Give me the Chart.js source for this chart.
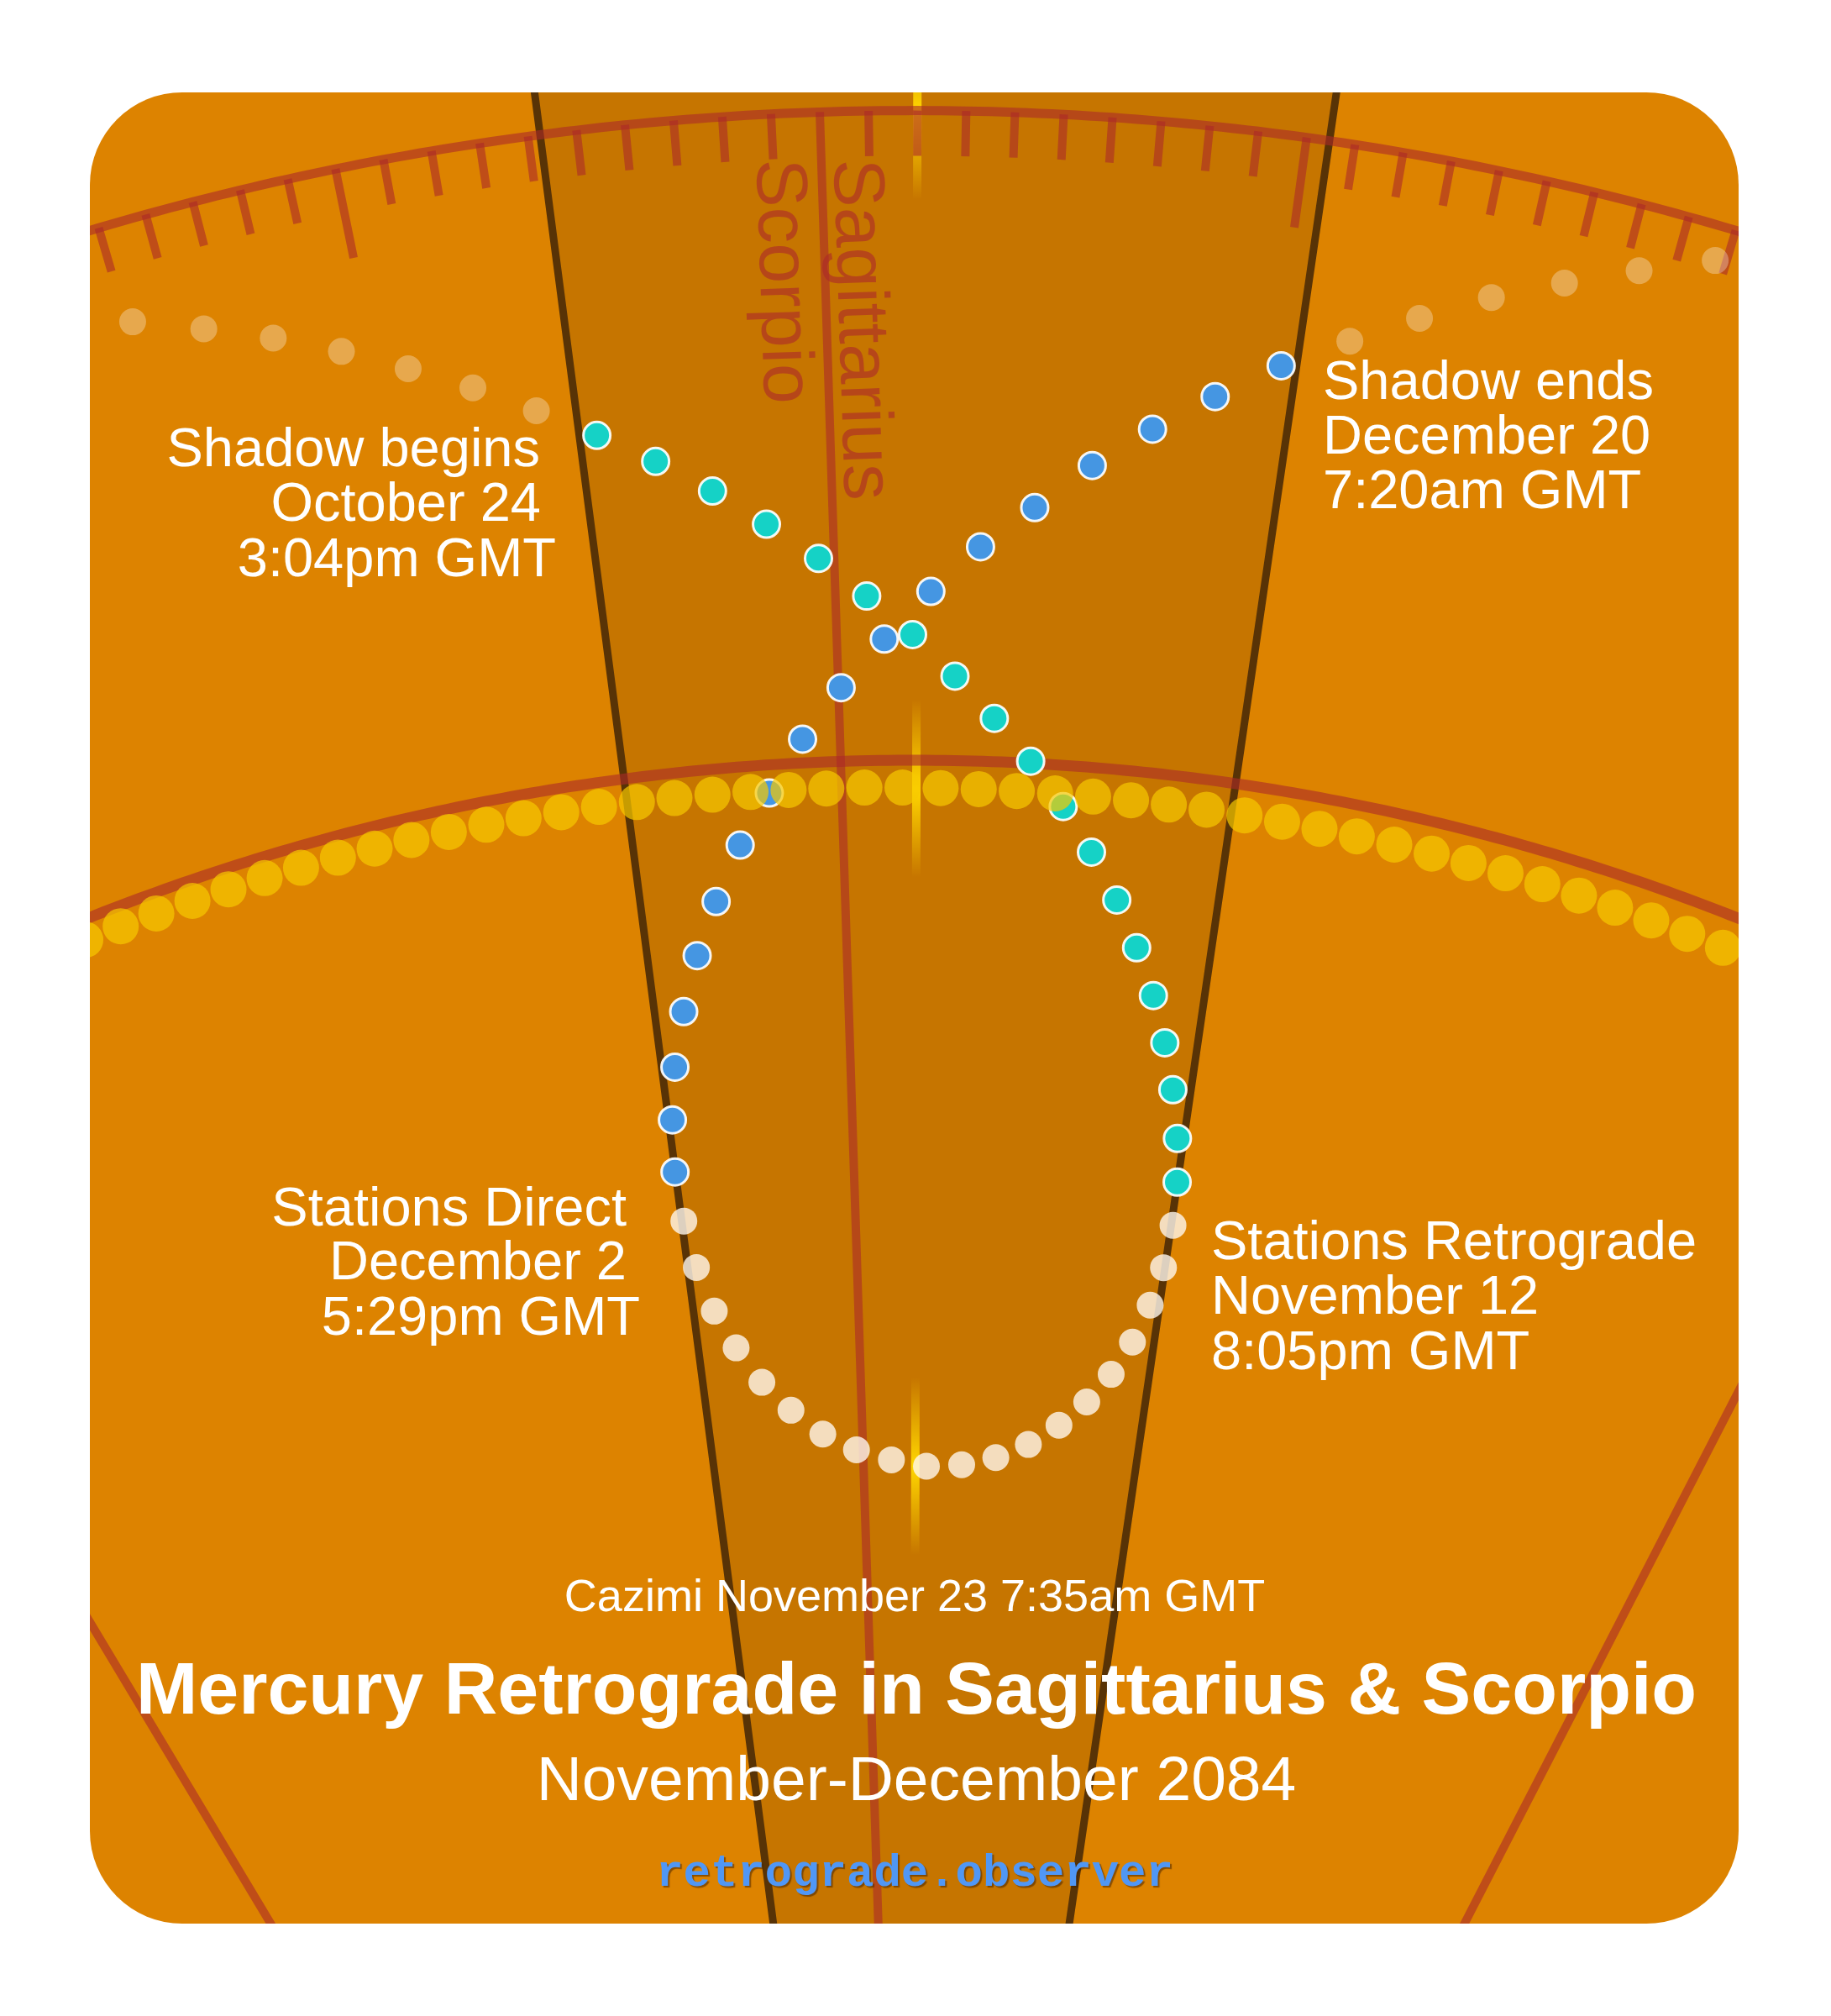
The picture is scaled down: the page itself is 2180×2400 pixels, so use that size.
<!DOCTYPE html>
<html>
<head>
<meta charset="utf-8">
<title>Mercury Retrograde in Sagittarius &amp; Scorpio</title>
<script src="https://cdn.jsdelivr.net/npm/chart.js@4.4.1/dist/chart.umd.min.js"></script>
<style>
  html, body { margin: 0; padding: 0; background: #fff; }
  #wrap { width: 2180px; height: 2400px; }
</style>
</head>
<body>
<div id="wrap"><canvas id="sky" width="2180" height="2400"></canvas></div>
<script>
// Mercury, one dot per day at 0h GMT: ecliptic longitude (deg) and distance from Earth (AU)
// Oct 18 - Oct 24, before the shadow
const preShadowLon = [225.13, 226.55, 227.95, 229.33, 230.69, 232.03, 233.36];
const preShadowDist = [1.254, 1.242, 1.230, 1.217, 1.203, 1.189, 1.174];
// Oct 25 - Nov 12, entering the shadow
const shadowInLon = [234.65, 235.93, 237.19, 238.41, 239.62, 240.77, 241.90, 242.98, 244.02, 245.02,
                     245.96, 246.82, 247.64, 248.34, 248.98, 249.49, 249.92, 250.27, 250.46];
const shadowInDist = [1.159, 1.144, 1.128, 1.111, 1.094, 1.076, 1.058, 1.039, 1.020, 1.001,
                      0.981, 0.961, 0.940, 0.919, 0.898, 0.877, 0.856, 0.834, 0.814];
// Nov 13 - Dec 2, retrograde
const retroLon = [250.53, 250.42, 250.15, 249.71, 249.10, 248.33, 247.39, 246.30, 245.09, 243.79,
                  242.43, 241.08, 239.75, 238.50, 237.37, 236.39, 235.59, 234.97, 234.54, 234.32];
const retroDist = [0.794, 0.774, 0.756, 0.738, 0.722, 0.708, 0.696, 0.686, 0.679, 0.675,
                   0.674, 0.677, 0.682, 0.690, 0.702, 0.716, 0.733, 0.751, 0.772, 0.794];
// Dec 3 - Dec 20, leaving the shadow
const shadowOutLon = [234.24, 234.37, 234.65, 235.11, 235.68, 236.37, 237.17, 238.06, 239.02,
                      240.07, 241.19, 242.35, 243.54, 244.80, 246.09, 247.41, 248.75, 250.13];
const shadowOutDist = [0.817, 0.841, 0.865, 0.890, 0.915, 0.939, 0.964, 0.987, 1.011,
                       1.034, 1.056, 1.078, 1.099, 1.118, 1.139, 1.158, 1.176, 1.194];
// Dec 21 - Dec 26, after the shadow
const postShadowLon = [251.55, 252.96, 254.39, 255.84, 257.30, 258.77];
const postShadowDist = [1.210, 1.226, 1.242, 1.256, 1.270, 1.284];

// Sun, one dot per day, Oct 24 - Dec 20
const sunLon = [211.21, 212.22, 213.23, 214.24, 215.25, 216.26, 217.27, 218.28, 219.29, 220.30,
                221.31, 222.33, 223.34, 224.35, 225.36, 226.38, 227.39, 228.40, 229.42, 230.44,
                231.45, 232.47, 233.49, 234.51, 235.52, 236.54, 237.56, 238.58, 239.59, 240.61,
                241.63, 242.65, 243.67, 244.69, 245.72, 246.74, 247.76, 248.78, 249.80, 250.83,
                251.85, 252.87, 253.89, 254.92, 255.95, 256.97, 258.00, 259.03, 260.06, 261.08,
                262.11, 263.14, 264.17, 265.20, 266.23, 267.26, 268.29, 269.32];
const sunDist = [0.9925, 0.9923, 0.9922, 0.9920, 0.9918, 0.9917, 0.9915, 0.9913, 0.9912, 0.9910,
                 0.9908, 0.9907, 0.9905, 0.9904, 0.9902, 0.9901, 0.9899, 0.9898, 0.9896, 0.9894,
                 0.9892, 0.9890, 0.9888, 0.9887, 0.9885, 0.9883, 0.9881, 0.9879, 0.9877, 0.9876,
                 0.9874, 0.9872, 0.9871, 0.9869, 0.9868, 0.9866, 0.9865, 0.9864, 0.9862, 0.9861,
                 0.9860, 0.9858, 0.9857, 0.9856, 0.9855, 0.9854, 0.9853, 0.9852, 0.9851, 0.9850,
                 0.9849, 0.9848, 0.9847, 0.9847, 0.9846, 0.9846, 0.9845, 0.9845];

const cazimiLon = 242.0;
const cazimiDists = [1.3, 0.987, 0.674];   // degree scale, Sun, Mercury at cazimi
const shadowLon = [234.25, 250.47];
const signBoundaryLon = [210, 240, 270];
const signNames = ['Scorpio', 'Sagittarius'];
const eclipticDist = 1.0;
const scaleArcDist = 1.3;

const labelBlocks = [
    { align: 'right', lines: ['Shadow begins', 'October 24', '3:04pm GMT'] },
    { align: 'left', lines: ['Shadow ends', 'December 20', '7:20am GMT'] },
    { align: 'right', lines: ['Stations Direct', 'December 2', '5:29pm GMT'] },
    { align: 'left', lines: ['Stations Retrograde', 'November 12', '8:05pm GMT'] }
];
const cazimiText = 'Cazimi November 23 7:35am GMT';
const titleText = 'Mercury Retrograde in Sagittarius & Scorpio';
const subtitleText = 'November-December 2084';
const siteText = 'retrograde.observer';

// ---- layout ----
// conic projection: longitude -> angle (times coneN), distance -> radius from the apex
const centerLon = 241.91;
const coneN = 0.97;
const distOffset = 0.0318;
const panel = { x: 107, y: 110, w: 1963, h: 2180, r: 110 };
const labelPos = [
    { x: [643, 644, 662], y: [555, 620, 686] },
    { x: [1575, 1575, 1575], y: [475, 540, 605] },
    { x: [746, 746, 762], y: [1459, 1523, 1589] },
    { x: [1442, 1442, 1442], y: [1499, 1564, 1630] }
];
const SANS = '"Liberation Sans", Arial, Helvetica, sans-serif';

function toXY(lon, dist) {
    const t = coneN * (lon - centerLon) * Math.PI / 180;
    const rr = dist + distOffset;
    return { x: rr * Math.sin(t), y: rr * Math.cos(t) };
}

function points(lons, dists) {
    return lons.map((l, i) => toXY(l, dists[i]));
}

function panelPath(ctx) {
    const p = panel;
    ctx.beginPath();
    ctx.moveTo(p.x + p.r, p.y);
    ctx.arcTo(p.x + p.w, p.y, p.x + p.w, p.y + p.h, p.r);
    ctx.arcTo(p.x + p.w, p.y + p.h, p.x, p.y + p.h, p.r);
    ctx.arcTo(p.x, p.y + p.h, p.x, p.y, p.r);
    ctx.arcTo(p.x, p.y, p.x + p.w, p.y, p.r);
    ctx.closePath();
}

const skyPlugin = {
    id: 'sky',
    beforeDatasetsDraw(chart) {
        const ctx = chart.ctx;
        const xs = chart.scales.x, ys = chart.scales.y;
        const px = (lon, d) => {
            const p = toXY(lon, d);
            return [xs.getPixelForValue(p.x), ys.getPixelForValue(p.y)];
        };
        const arc = (d, a, b) => {
            ctx.beginPath();
            for (let l = a; l <= b + 1e-9; l += 0.25) {
                const [x, y] = px(l, d);
                if (l === a) ctx.moveTo(x, y); else ctx.lineTo(x, y);
            }
        };
        const radial = (lon, d0, d1) => {
            const [x0, y0] = px(lon, d0);
            const [x1, y1] = px(lon, d1);
            ctx.moveTo(x0, y0);
            ctx.lineTo(x1, y1);
        };

        ctx.save();
        panelPath(ctx);
        ctx.fillStyle = '#dd8300';
        ctx.fill();
        ctx.clip();

        // shadow wedge
        ctx.beginPath();
        let [x, y] = px(shadowLon[0], 0);
        ctx.moveTo(x, y);
        for (let l = shadowLon[0]; l <= shadowLon[1] + 1e-9; l += 0.2) {
            [x, y] = px(l, 1.7);
            ctx.lineTo(x, y);
        }
        [x, y] = px(shadowLon[1], 1.7);
        ctx.lineTo(x, y);
        [x, y] = px(shadowLon[1], 0);
        ctx.lineTo(x, y);
        ctx.closePath();
        ctx.fillStyle = 'rgba(0,0,0,0.1)';
        ctx.fill();

        // shadow edges
        ctx.beginPath();
        shadowLon.forEach(l => radial(l, 0, 1.7));
        ctx.strokeStyle = '#583306';
        ctx.lineWidth = 9;
        ctx.stroke();

        // sign boundaries
        ctx.beginPath();
        signBoundaryLon.forEach(l => radial(l, 0, scaleArcDist));
        ctx.strokeStyle = 'rgba(172,42,40,0.6)';
        ctx.lineWidth = 10;
        ctx.stroke();

        // cazimi highlights
        ctx.lineWidth = 10;
        cazimiDists.forEach(d => {
            const [ax, ay] = px(cazimiLon, d + 0.041);
            const [bx, by] = px(cazimiLon, d - 0.041);
            const g = ctx.createLinearGradient(ax, ay, bx, by);
            g.addColorStop(0, 'rgba(255,214,0,0)');
            g.addColorStop(0.5, 'rgba(255,214,0,1)');
            g.addColorStop(1, 'rgba(255,214,0,0)');
            ctx.strokeStyle = g;
            ctx.beginPath();
            ctx.moveTo(ax, ay);
            ctx.lineTo(bx, by);
            ctx.stroke();
        });

        // ecliptic and degree scale
        ctx.strokeStyle = 'rgba(172,42,40,0.6)';
        ctx.lineWidth = 13;
        arc(eclipticDist, 195, 290);
        ctx.stroke();
        ctx.lineWidth = 11;
        arc(scaleArcDist, 195, 290);
        ctx.stroke();
        ctx.lineWidth = 10;
        ctx.beginPath();
        for (let l = 200; l <= 285; l++) {
            if (l % 30 === 0) continue;
            const len = l % 10 === 0 ? 0.0419 : 0.0209;
            radial(l, scaleArcDist, scaleArcDist - len);
        }
        ctx.stroke();

        // sign names along the boundary
        const [tx, ty] = px(signBoundaryLon[1], 1.279);
        ctx.save();
        ctx.translate(tx, ty);
        ctx.rotate(Math.PI / 2 + coneN * (signBoundaryLon[1] - centerLon) * Math.PI / 180);
        ctx.fillStyle = 'rgba(172,42,40,0.62)';
        ctx.font = '86px ' + SANS;
        ctx.textBaseline = 'alphabetic';
        ctx.textAlign = 'left';
        ctx.fillText(signNames[0], 0, 77);
        ctx.fillText(signNames[1], 3, -15);
        ctx.restore();

        ctx.restore();

        // keep the dots inside the panel
        ctx.save();
        panelPath(ctx);
        ctx.clip();
    },
    afterDatasetsDraw(chart) {
        chart.ctx.restore();
    },
    afterDraw(chart) {
        const ctx = chart.ctx;
        ctx.save();
        ctx.fillStyle = '#ffffff';
        ctx.textBaseline = 'alphabetic';
        ctx.font = '65px ' + SANS;
        labelBlocks.forEach((b, i) => {
            ctx.textAlign = b.align;
            b.lines.forEach((t, j) => ctx.fillText(t, labelPos[i].x[j], labelPos[i].y[j]));
        });

        ctx.textAlign = 'center';
        ctx.font = '54px ' + SANS;
        ctx.fillText(cazimiText, 1089, 1918);
        ctx.font = 'bold 88px ' + SANS;
        ctx.fillText(titleText, 1091, 2040);
        ctx.font = '75px ' + SANS;
        ctx.fillText(subtitleText, 1091, 2143);

        ctx.font = 'bold 54px "Liberation Mono", "Courier New", monospace';
        ctx.shadowColor = 'rgba(70,35,0,0.55)';
        ctx.shadowOffsetX = 2;
        ctx.shadowOffsetY = 2;
        ctx.shadowBlur = 1;
        ctx.fillStyle = '#5097f5';
        ctx.fillText(siteText, 1089, 2245);
        ctx.restore();
    }
};

function dotSet(label, data, fill, border, borderWidth, radius, order) {
    return {
        label: label,
        data: data,
        order: order,
        pointRadius: radius,
        pointHoverRadius: radius,
        pointBackgroundColor: fill,
        pointBorderColor: border,
        pointBorderWidth: borderWidth,
        pointHoverBorderWidth: borderWidth,
        showLine: false
    };
}

new Chart(document.getElementById('sky'), {
    type: 'scatter',
    data: {
        datasets: [
            dotSet('Sun', points(sunLon, sunDist), 'rgba(247,201,0,0.7)', 'rgba(0,0,0,0)', 0, 21.5, 0),
            dotSet('Entering shadow', points(shadowInLon, shadowInDist), '#15d2c6', 'rgba(255,255,255,0.92)', 3, 16, 1),
            dotSet('Retrograde', points(retroLon, retroDist), 'rgba(255,248,238,0.8)', 'rgba(0,0,0,0)', 0, 16, 2),
            dotSet('Leaving shadow', points(shadowOutLon, shadowOutDist), '#4596e2', 'rgba(255,255,255,0.92)', 3, 16, 3),
            dotSet('Before shadow', points(preShadowLon, preShadowDist), 'rgba(255,255,255,0.3)', 'rgba(0,0,0,0)', 0, 16, 4),
            dotSet('After shadow', points(postShadowLon, postShadowDist), 'rgba(255,255,255,0.3)', 'rgba(0,0,0,0)', 0, 16, 4)
        ]
    },
    options: {
        responsive: false,
        animation: false,
        devicePixelRatio: 1,
        events: [],
        layout: { autoPadding: false, padding: 0 },
        plugins: {
            legend: { display: false },
            tooltip: { enabled: false }
        },
        scales: {
            x: { type: 'linear', display: false, min: -0.421645, max: 0.423972 },
            y: { type: 'linear', display: false, min: 0.451901, max: 1.382855 }
        }
    },
    plugins: [skyPlugin]
});
</script>
</body>
</html>
